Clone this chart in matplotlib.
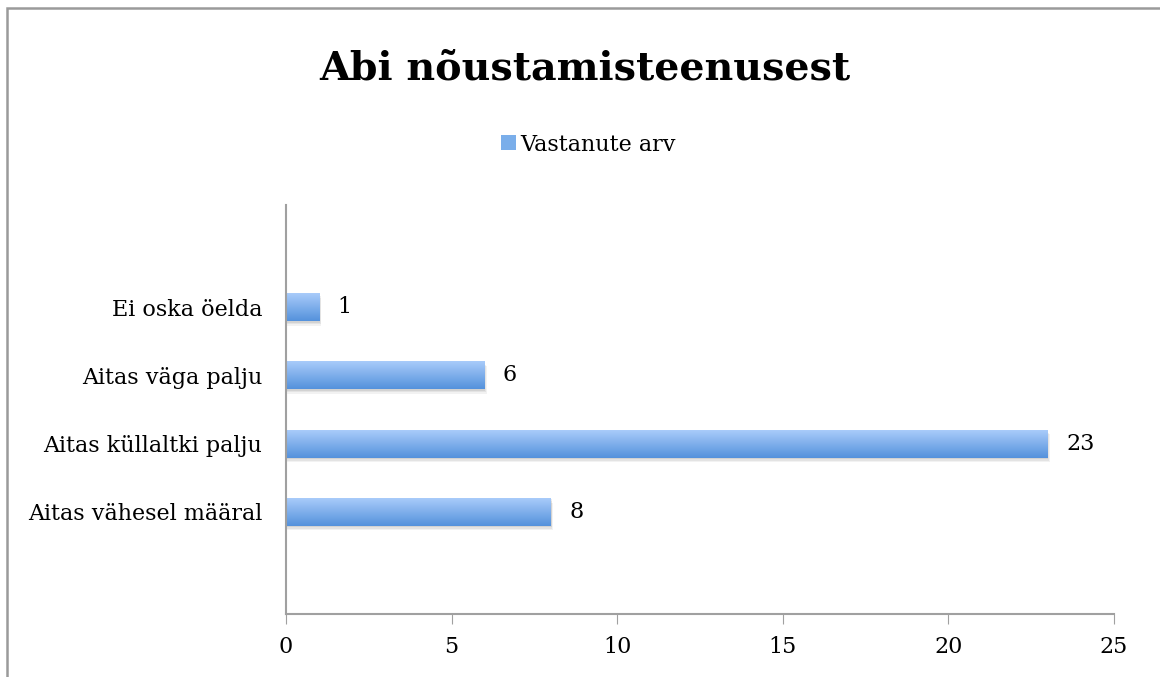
import numpy as np
import matplotlib
matplotlib.use("Agg")
import matplotlib.pyplot as plt
from matplotlib.patches import Rectangle
from matplotlib.colors import LinearSegmentedColormap

# data
categories = ["Aitas vähesel määral", "Aitas küllaltki palju", "Aitas väga palju", "Ei oska öelda"]
values = [8, 23, 6, 1]
series_name = "Vastanute arv"
title = "Abi nõustamisteenusest"
xticks = [0, 5, 10, 15, 20, 25]

plt.rcParams['font.family'] = ['DejaVu Serif']
W, H = 1160, 677
fig = plt.figure(figsize=(W / 100, H / 100), dpi=100)

# outer chart frame (only top and left visible)
fig.add_artist(Rectangle((7 / W, -0.5), 2, 0.5 + 1 - 8 / H, transform=fig.transFigure,
                         fill=False, edgecolor='#9a9a9a', linewidth=1.8))

ax = fig.add_axes([286 / W, 63 / H, 828 / W, 409 / H])
grad = LinearSegmentedColormap.from_list("bar", ["#5592dc", "#a8cbfa"])
bar_h = 0.41
y = np.arange(len(categories))

for yi, v in zip(y, values):
    # soft shadow
    for k, a in [(0.07, 0.05), (0.045, 0.06), (0.02, 0.07)]:
        ax.add_patch(Rectangle((0, yi - bar_h / 2 - k), v + k, bar_h, facecolor='#000000',
                               alpha=a, edgecolor='none', zorder=1))
    img = ax.imshow(np.linspace(0, 1, 64).reshape(-1, 1), cmap=grad, aspect='auto',
                    extent=[0, v, yi - bar_h / 2, yi + bar_h / 2], origin='lower', zorder=2)
    clip = Rectangle((0, yi - bar_h / 2), v, bar_h, transform=ax.transData)
    img.set_clip_path(clip)
    ax.text(v + 0.55, yi, str(v), va='center', ha='left', fontsize=16)

ax.set_xlim(0, 25)
ax.set_ylim(-1.5, 4.5)
ax.set_xticks(xticks)
ax.set_xticklabels([str(t) for t in xticks], fontsize=16)
ax.set_yticks(y)
ax.set_yticklabels(categories, fontsize=16)
ax.tick_params(axis='x', length=7, color='#a0a0a0', pad=9)
ax.tick_params(axis='y', length=0, pad=17)
for s in ['top', 'right']:
    ax.spines[s].set_visible(False)
for s in ['left', 'bottom']:
    ax.spines[s].set_color('#a0a0a0')
    ax.spines[s].set_linewidth(1.5)

fig.text(585 / W, 1 - 68 / H, title, ha='center', va='center', fontsize=28.5, fontweight='bold')
# legend
fig.add_artist(Rectangle((501 / W, 1 - 150 / H), 15 / W, 15 / H, transform=fig.transFigure,
                         facecolor='#7aaeea', edgecolor='none'))
fig.text(520 / W, 1 - 145 / H, series_name, ha='left', va='center', fontsize=16)

fig.savefig("out.png", dpi=100)
